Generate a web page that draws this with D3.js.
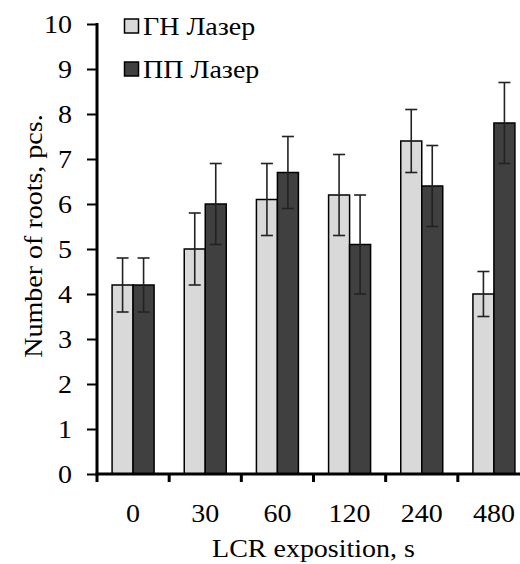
<!DOCTYPE html>
<html lang="en">
<head>
    <meta charset="UTF-8">
    <script src="https://d3js.org/d3.v7.min.js"></script>
    <title>Roots chart</title>
    <style>
        body { margin: 0; background: #fff; }
    </style>
</head>
<body>
    <div id="chart"></div>
    <script>
        // data
        var categories = ["0", "30", "60", "120", "240", "480"];
        var seriesNames = ["ГН Лазер", "ПП Лазер"];
        var ghValues = [4.2, 5.0, 6.1, 6.2, 7.4, 4.0];
        var ghErrors = [0.6, 0.8, 0.8, 0.9, 0.7, 0.5];
        var ppValues = [4.2, 6.0, 6.7, 5.1, 6.4, 7.8];
        var ppErrors = [0.6, 0.9, 0.8, 1.1, 0.9, 0.9];
        var yTicks = [0, 1, 2, 3, 4, 5, 6, 7, 8, 9, 10];
        var colors = ["#d9d9d9", "#404040"];

        var width = 520, height = 564;
        var plotLeft = 97, plotTop = 24, plotBottom = 474, plotRight = 530;
        var stretch = 1.12; // the source font runs a bit wider than Liberation Serif

        var svg = d3.select("#chart").append("svg")
            .attr("width", width)
            .attr("height", height);

        // helper: text placed at (px, py), widened along its own direction
        function addText(px, py, str, anchor, rot) {
            return svg.append("text")
                .attr("transform", "translate(" + px + "," + py + ")" +
                    (rot ? " rotate(" + rot + ")" : "") + " scale(" + stretch + ",1)")
                .attr("text-anchor", anchor || "start")
                .style("font-family", "'Liberation Serif'")
                .style("font-size", "25px")
                .attr("fill", "#000")
                .text(str);
        }

        var pad = 0.418;
        var x = d3.scaleBand()
            .domain(categories)
            .range([plotLeft, plotRight])
            .paddingInner(pad)
            .paddingOuter(pad / 2);

        var xs = d3.scaleBand()
            .domain(seriesNames)
            .range([0, x.bandwidth()]);

        var y = d3.scaleLinear()
            .domain([0, 10])
            .range([plotBottom, plotTop]);

        // build rows
        var rows = [];
        categories.forEach(function (c, i) {
            rows.push({ cat: c, s: seriesNames[0], v: ghValues[i], e: ghErrors[i], col: colors[0] });
            rows.push({ cat: c, s: seriesNames[1], v: ppValues[i], e: ppErrors[i], col: colors[1] });
        });

        // bars
        svg.append("g")
            .selectAll("rect")
            .data(rows)
            .enter()
            .append("rect")
            .attr("x", function (d) { return x(d.cat) + xs(d.s); })
            .attr("y", function (d) { return y(d.v); })
            .attr("width", xs.bandwidth())
            .attr("height", function (d) { return y(0) - y(d.v); })
            .attr("fill", function (d) { return d.col; })
            .attr("stroke", "#000")
            .attr("stroke-width", 1.5);

        // error bars
        var err = svg.append("g")
            .attr("stroke", "#222")
            .attr("stroke-width", 1.6);
        var cap = 6;
        rows.forEach(function (d) {
            var cx = x(d.cat) + xs(d.s) + xs.bandwidth() / 2;
            err.append("line")
                .attr("x1", cx).attr("x2", cx)
                .attr("y1", y(d.v + d.e)).attr("y2", y(d.v - d.e));
            err.append("line")
                .attr("x1", cx - cap).attr("x2", cx + cap)
                .attr("y1", y(d.v + d.e)).attr("y2", y(d.v + d.e));
            err.append("line")
                .attr("x1", cx - cap).attr("x2", cx + cap)
                .attr("y1", y(d.v - d.e)).attr("y2", y(d.v - d.e));
        });

        // y axis (ticks from d3, labels placed by hand so they can be widened)
        var yAxis = svg.append("g")
            .attr("transform", "translate(" + plotLeft + ",0)")
            .call(d3.axisLeft(y).tickValues(yTicks).tickSize(10).tickFormat(""));
        yAxis.select(".domain").remove();
        yAxis.selectAll(".tick line").attr("stroke", "#000").attr("stroke-width", 2);
        yTicks.forEach(function (t) {
            addText(72, y(t) + 8.5, String(t), "end");
        });
        svg.append("line")
            .attr("x1", plotLeft).attr("x2", plotLeft)
            .attr("y1", y(10) - 1).attr("y2", y(0) + 1.5)
            .attr("stroke", "#000").attr("stroke-width", 3);

        // x axis
        var step = x.step();
        var xAxis = svg.append("g");
        xAxis.append("line")
            .attr("x1", plotLeft - 1.5).attr("x2", plotRight)
            .attr("y1", y(0)).attr("y2", y(0))
            .attr("stroke", "#000").attr("stroke-width", 3);
        xAxis.selectAll(".xt")
            .data(categories)
            .enter()
            .append("line")
            .attr("x1", function (d) { return x(d) - step * pad / 2; })
            .attr("x2", function (d) { return x(d) - step * pad / 2; })
            .attr("y1", y(0)).attr("y2", y(0) + 8)
            .attr("stroke", "#000").attr("stroke-width", 3);
        categories.forEach(function (c) {
            addText(x(c) + x.bandwidth() / 2, 522, c, "middle");
        });

        // axis titles
        addText((plotLeft + plotRight) / 2, 557, "LCR exposition, s", "middle");
        addText(42, 236, "Number of roots, pcs.", "middle", -90);

        // legend
        seriesNames.forEach(function (s, i) {
            svg.append("rect")
                .attr("x", 124.5).attr("y", 19 + i * 43)
                .attr("width", 14).attr("height", 14)
                .attr("fill", colors[i])
                .attr("stroke", "#000").attr("stroke-width", 1.5);
            addText(143, 35 + i * 43, s, "start");
        });
    </script>
</body>
</html>
